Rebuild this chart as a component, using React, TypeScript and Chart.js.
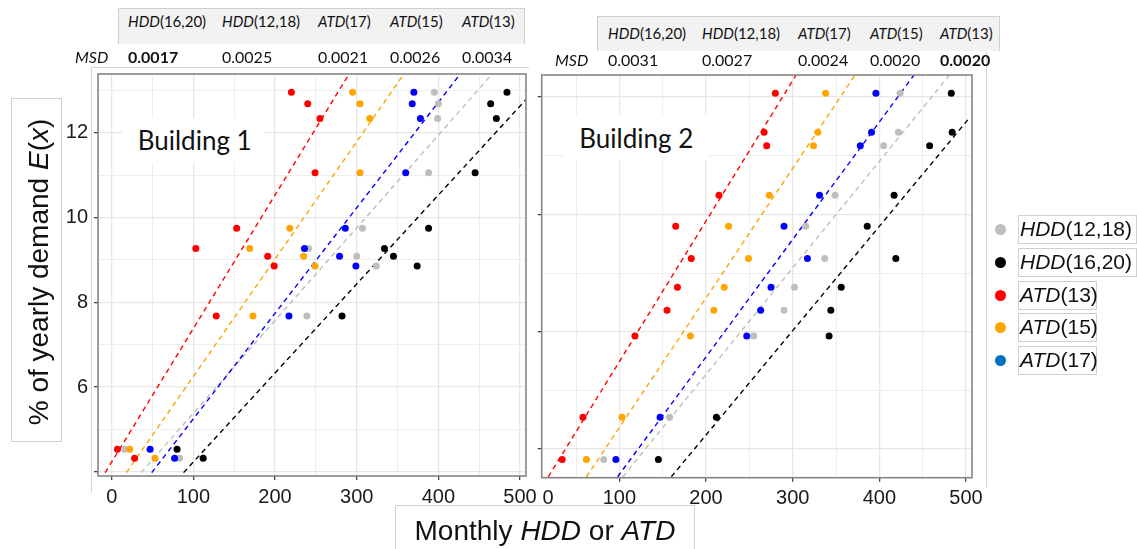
import React, { useEffect, useRef } from "react";
import { Chart, registerables } from "chart.js";

Chart.register(...registerables);

// ---------------- data ----------------
const seriesNames = ["HDD(12,18)", "HDD(16,20)", "ATD(13)", "ATD(15)", "ATD(17)"];
const seriesColors = ["#BEBEBE", "#000000", "#FF0000", "#FFA500", "#0000FF"];
const legendColors = ["#BEBEBE", "#000000", "#FF0000", "#FFA500", "#0070C0"];
const seriesZ = [4, 3, 2, 1, 0]; // draw order (lower = on top)

// Building 1 : share of yearly demand per month (y) and the month's HDD / ATD value (x)
const b1Demand = [12.96, 12.69, 12.34, 11.06, 9.75, 9.27, 9.09, 8.86, 7.68, 4.53, 4.32];
const b1HDD12_18 = [395, 400, 399, 388, 307, 241, 300, 324, 239, 16, 83];
const b1HDD16_20 = [484, 464, 471, 445, 388, 334, 345, 374, 282, 80, 112];
const b1ATD13 = [220, 240, 255, 249, 153, 103, 191, 199, 128, 7, 28];
const b1ATD15 = [295, 304, 316, 304, 218, 169, 235, 249, 173, 22, 53];
const b1ATD17 = [370, 368, 378, 360, 286, 236, 279, 299, 217, 47, 77];
// fitted lines (x, y end points)
const b1FitHDD12_18 = [[36, 3.98], [465, 13.37]];
const b1FitHDD16_20 = [[88, 3.98], [507, 12.78]];
const b1FitATD13 = [[-8, 3.98], [290, 13.37]];
const b1FitATD15 = [[18, 3.98], [357, 13.37]];
const b1FitATD17 = [[49, 3.98], [426, 13.37]];

// Building 2
const b2Demand = [12.58, 11.75, 11.46, 10.41, 9.75, 9.06, 8.45, 7.96, 7.41, 5.68, 4.78];
const b2HDD12_18 = [424, 422, 405, 349, 315, 337, 302, 290, 255, 158, 82];
const b2HDD16_20 = [483, 484, 458, 417, 386, 419, 356, 344, 342, 212, 145];
const b2ATD13 = [280, 267, 270, 215, 165, 183, 167, 155, 118, 58, 34];
const b2ATD15 = [338, 329, 324, 273, 226, 249, 221, 209, 182, 103, 62];
const b2ATD17 = [396, 391, 378, 331, 290, 317, 275, 263, 247, 147, 96];
const b2FitHDD12_18 = [[104, 4.41], [481, 12.97]];
const b2FitHDD16_20 = [[160, 4.41], [505, 12.08]];
const b2FitATD13 = [[18, 4.41], [304, 12.97]];
const b2FitATD15 = [[62, 4.41], [372, 12.97]];
const b2FitATD17 = [[98, 4.41], [440, 12.97]];

// axes
const b1XRange = [-16.8, 507.3];
const b1YRange = [3.9, 13.39];
const b1XMajor = [0, 100, 200, 300, 400, 500];
const b1XMinor = [50, 150, 250, 350, 450];
const b1YMajor = [4, 6, 8, 10, 12];
const b1YMinor = [5, 7, 9, 11, 13];
const b1YLabelled = [6, 8, 10, 12];

const b2XRange = [10.4, 506.9];
const b2YRange = [4.39, 12.97];
const b2XMajor = [100, 200, 300, 400, 500];
const b2XMinor = [50, 150, 250, 350, 450];
const b2XZeroLabelAt = [17.7]; // the shifted "0" label of the second panel
const b2YMajor = [5, 7.5, 10, 12.5];
const b2YMinor = [6.25, 8.75, 11.25];

// MSD tables
const tableHeads = [["HDD", "(16,20)"], ["HDD", "(12,18)"], ["ATD", "(17)"], ["ATD", "(15)"], ["ATD", "(13)"]];
const msd1 = ["0.0017", "0.0025", "0.0021", "0.0026", "0.0034"];
const msd1Best = 0;
const msd2 = ["0.0031", "0.0027", "0.0024", "0.0020", "0.0020"];
const msd2Best = 4;

// ---------------- styling ----------------
const SANS = "'Liberation Sans', Arial, Helvetica, sans-serif";
const CAL = "Lato, 'Open Sans', sans-serif";

const framePlugin = {
  id: "frame",
  afterDatasetsDraw(chart: any) {
    const { ctx, chartArea: a } = chart;
    ctx.save();
    ctx.strokeStyle = "#858585";
    ctx.lineWidth = 1.6;
    ctx.strokeRect(a.left, a.top, a.right - a.left, a.bottom - a.top);
    ctx.restore();
  },
};

type Panel = {
  demand: number[];
  xs: number[][];
  fits: number[][][];
  xRange: number[];
  yRange: number[];
  xMajor: number[];
  xMinor: number[];
  xExtra: number[];
  yMajor: number[];
  yMinor: number[];
  yLabelled: number[];
  yAxisWidth: number;
  xAxisHeight: number;
  padRight: number;
  padTop: number;
};

function buildConfig(p: Panel): any {
  const datasets: any[] = [];
  seriesNames.forEach((name, i) => {
    datasets.push({
      label: name + " fit",
      data: p.fits[i].map(([x, y]) => ({ x, y })),
      showLine: true,
      borderColor: seriesColors[i],
      borderWidth: 1.4,
      borderDash: [5, 4],
      pointRadius: 0,
      fill: false,
      order: 10 + seriesZ[i],
    });
    datasets.push({
      label: name,
      data: p.xs[i].map((x, k) => ({ x, y: p.demand[k] })),
      showLine: false,
      backgroundColor: seriesColors[i],
      borderColor: seriesColors[i],
      borderWidth: 0,
      pointRadius: 3.5,
      order: seriesZ[i],
    });
  });

  const inList = (list: number[], v: number) => list.some((m) => Math.abs(m - v) < 1e-6);

  return {
    type: "scatter",
    data: { datasets },
    plugins: [framePlugin],
    options: {
      animation: false,
      responsive: false,
      devicePixelRatio: 1,
      layout: { padding: { left: 0, right: p.padRight, top: p.padTop, bottom: 0 } },
      plugins: { legend: { display: false }, tooltip: { enabled: false } },
      scales: {
        x: {
          type: "linear",
          min: p.xRange[0],
          max: p.xRange[1],
          afterBuildTicks: (s: any) => {
            s.ticks = [...p.xExtra, ...p.xMinor, ...p.xMajor].sort((a, b) => a - b).map((v) => ({ value: v }));
          },
          afterFit: (s: any) => {
            s.height = p.xAxisHeight;
            s.paddingLeft = 0;
            s.paddingRight = 0;
          },
          ticks: {
            autoSkip: false,
            maxRotation: 0,
            minRotation: 0,
            padding: 5,
            color: "#1a1a1a",
            font: { family: SANS, size: 20 },
            callback: (v: number) => (inList(p.xMajor, v) ? String(v) : inList(p.xExtra, v) ? "0" : ""),
          },
          grid: {
            color: (c: any) => (inList(p.xMajor, c.tick.value) ? "#E6E6E6" : inList(p.xMinor, c.tick.value) ? "#EEEEEE" : "rgba(0,0,0,0)"),
            lineWidth: (c: any) => (inList(p.xMajor, c.tick.value) ? 1.3 : 1),
            tickLength: 4,
            tickWidth: 1.3,
            tickColor: (c: any) => (inList(p.xMajor, c.tick.value) ? "#444444" : "rgba(0,0,0,0)"),
          },
          border: { display: false },
        },
        y: {
          type: "linear",
          min: p.yRange[0],
          max: p.yRange[1],
          afterBuildTicks: (s: any) => {
            s.ticks = [...p.yMinor, ...p.yMajor].sort((a, b) => a - b).map((v) => ({ value: v }));
          },
          afterFit: (s: any) => {
            s.width = p.yAxisWidth;
            s.paddingTop = 0;
            s.paddingBottom = 0;
          },
          ticks: {
            autoSkip: false,
            padding: 6,
            color: "#1a1a1a",
            font: { family: SANS, size: 20 },
            callback: (v: number) => (inList(p.yLabelled, v) ? String(v) : ""),
          },
          grid: {
            color: (c: any) => (inList(p.yMajor, c.tick.value) ? "#E6E6E6" : "#EEEEEE"),
            lineWidth: (c: any) => (inList(p.yMajor, c.tick.value) ? 1.3 : 1),
            tickLength: 4,
            tickWidth: 1.3,
            tickColor: (c: any) => (inList(p.yMajor, c.tick.value) ? "#444444" : "rgba(0,0,0,0)"),
          },
          border: { display: false },
        },
      },
    },
  };
}

const panel1: Panel = {
  demand: b1Demand,
  xs: [b1HDD12_18, b1HDD16_20, b1ATD13, b1ATD15, b1ATD17],
  fits: [b1FitHDD12_18, b1FitHDD16_20, b1FitATD13, b1FitATD15, b1FitATD17],
  xRange: b1XRange,
  yRange: b1YRange,
  xMajor: b1XMajor,
  xMinor: b1XMinor,
  xExtra: [],
  yMajor: b1YMajor,
  yMinor: b1YMinor,
  yLabelled: b1YLabelled,
  yAxisWidth: 58,
  xAxisHeight: 48,
  padRight: 14,
  padTop: 10,
};

const panel2: Panel = {
  demand: b2Demand,
  xs: [b2HDD12_18, b2HDD16_20, b2ATD13, b2ATD15, b2ATD17],
  fits: [b2FitHDD12_18, b2FitHDD16_20, b2FitATD13, b2FitATD15, b2FitATD17],
  xRange: b2XRange,
  yRange: b2YRange,
  xMajor: b2XMajor,
  xMinor: b2XMinor,
  xExtra: b2XZeroLabelAt,
  yMajor: b2YMajor,
  yMinor: b2YMinor,
  yLabelled: [],
  yAxisWidth: 21.7,
  xAxisHeight: 46.3,
  padRight: 18,
  padTop: 10,
};

function ScatterPanel({ panel, left, top, width, height }: { panel: Panel; left: number; top: number; width: number; height: number }) {
  const ref = useRef<HTMLCanvasElement | null>(null);
  useEffect(() => {
    if (!ref.current) return;
    const chart = new Chart(ref.current, buildConfig(panel));
    return () => chart.destroy();
  }, [panel]);
  return (
    <canvas
      ref={ref}
      width={width}
      height={height}
      style={{ position: "absolute", left, top, width, height }}
    />
  );
}

function Acr({ parts, size, family }: { parts: string[]; size: number; family: string }) {
  return (
    <span style={{ fontFamily: family, fontSize: size, whiteSpace: "nowrap" }}>
      <i>{parts[0]}</i>
      {parts[1]}
    </span>
  );
}

const abs = (l: number, t: number, extra: any = {}) => ({ position: "absolute" as const, left: l, top: t, ...extra });

function MsdTable({ boxLeft, boxTop, boxW, boxH, headY, rowY, msdX, colX, values, best }: any) {
  return (
    <>
      <div style={abs(boxLeft, boxTop, { width: boxW, height: boxH, background: "#F2F2F2", borderTop: "1px solid #CFCFCF", borderLeft: "1px solid #CFCFCF", borderRight: "1px solid #CFCFCF", boxSizing: "border-box" })} />
      {tableHeads.map((h, i) => (
        <div key={"h" + i} style={abs(colX[i], headY - 10, { lineHeight: "20px", color: "#111" })}>
          <Acr parts={h} size={15} family={CAL} />
        </div>
      ))}
      <div style={abs(msdX, rowY - 11, { lineHeight: "22px", fontFamily: CAL, fontSize: 16, fontStyle: "italic", color: "#111" })}>MSD</div>
      {values.map((v: string, i: number) => (
        <div key={"v" + i} style={abs(colX[i], rowY - 11, { lineHeight: "22px", fontFamily: CAL, fontSize: 16, fontWeight: i === best ? 700 : 400, color: "#111" })}>
          {v}
        </div>
      ))}
    </>
  );
}

const legendY = [229, 262, 295, 327, 360];
const legendBoxW = [119, 119, 79, 79, 79];

export default function App() {
  useEffect(() => {
    document.body.style.margin = "0";
  }, []);
  return (
    <div style={{ position: "absolute", left: 0, top: 0, width: 1137, height: 549, background: "#fff", overflow: "hidden" }}>
      {/* faint outlines of the pasted panels */}
      <div style={abs(91, 67, { width: 437, height: 425, borderLeft: "1px solid #D6D6D6", borderTop: "1px solid #D6D6D6" })} />
      <div style={abs(986, 52, { width: 0, height: 435, borderLeft: "1px solid #D6D6D6" })} />

      <ScatterPanel panel={panel1} left={40} top={64} width={500} height={460} />
      <ScatterPanel panel={panel2} left={520} top={65} width={470} height={459} />

      {/* panel titles */}
      <div style={abs(121.7, 118, { width: 143, height: 45, background: "#fff" })} />
      <div style={abs(137.7, 123, { lineHeight: "34px", fontFamily: CAL, fontSize: 26, color: "#111" })}>Building 1</div>
      <div style={abs(565, 115, { width: 142, height: 45, background: "#fff" })} />
      <div style={abs(579.3, 121, { lineHeight: "34px", fontFamily: CAL, fontSize: 26, color: "#111" })}>Building 2</div>

      {/* MSD tables */}
      <MsdTable boxLeft={118} boxTop={8} boxW={407} boxH={36} headY={21} rowY={57} msdX={75} colX={[128, 222, 318, 390, 462]} values={msd1} best={msd1Best} />
      <MsdTable boxLeft={597} boxTop={16} boxW={403} boxH={35} headY={33} rowY={60} msdX={555} colX={[608, 702, 798, 870, 940]} values={msd2} best={msd2Best} />

      {/* y axis title */}
      <div style={abs(10.7, 98, { width: 51, height: 344, border: "1px solid #D0D0D0", boxSizing: "border-box" })} />
      <div style={abs(39 - 200, 272 - 17, { width: 400, height: 34, lineHeight: "34px", textAlign: "center", transform: "rotate(-90deg)", fontFamily: SANS, fontSize: 28, color: "#111", whiteSpace: "nowrap" })}>
        % of yearly demand <i>E</i>(<i>x</i>)
      </div>

      {/* x axis title */}
      <div style={abs(395, 505, { width: 300, height: 60, border: "1px solid #D0D0D0", boxSizing: "border-box" })} />
      <div style={abs(345, 514, { width: 400, height: 34, lineHeight: "34px", textAlign: "center", fontFamily: SANS, fontSize: 28, color: "#111", whiteSpace: "nowrap" })}>
        Monthly <i>HDD</i> or <i>ATD</i>
      </div>

      {/* legend */}
      {seriesNames.map((name, i) => {
        const m = name.match(/^([A-Z]+)(.*)$/) || ["", name, ""];
        return (
          <React.Fragment key={name}>
            <div style={abs(1000 - 5.5, legendY[i] - 5.5, { width: 11, height: 11, borderRadius: "50%", background: legendColors[i] })} />
            <div style={abs(1018, legendY[i] - 14.5, { width: legendBoxW[i], height: 29, border: "1px solid #D0D0D0", boxSizing: "border-box" })} />
            <div style={abs(1020, legendY[i] - 13.5, { lineHeight: "26px", color: "#111" })}>
              <Acr parts={[m[1], m[2]]} size={21} family={SANS} />
            </div>
          </React.Fragment>
        );
      })}
    </div>
  );
}
